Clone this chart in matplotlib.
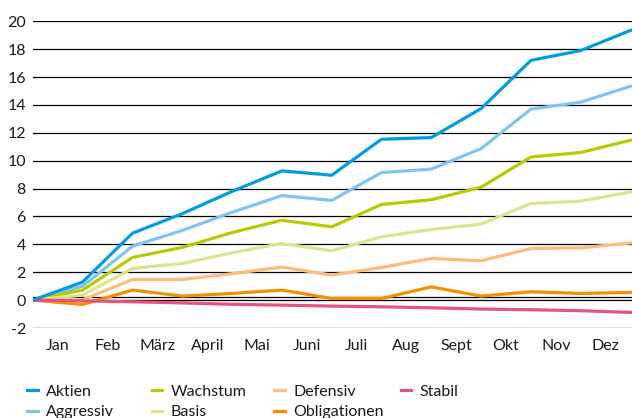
import matplotlib
matplotlib.use('Agg')
import matplotlib.pyplot as plt

# Monatsnamen (Beschriftung zwischen den Punkten)
monate = ['Jan', 'Feb', 'März', 'April', 'Mai', 'Juni', 'Juli', 'Aug', 'Sept', 'Okt', 'Nov', 'Dez']
punkte = list(range(13))  # Monatsenden, 0 = Start

aktien = [0, 1.3, 4.8, 6.2, 7.8, 9.27, 8.96, 11.54, 11.66, 13.74, 17.2, 17.9, 19.35]
aggressiv = [0, 1.0, 3.87, 5.0, 6.3, 7.5, 7.15, 9.15, 9.4, 10.87, 13.7, 14.2, 15.34]
wachstum = [0, 0.72, 3.06, 3.78, 4.85, 5.73, 5.26, 6.86, 7.2, 8.1, 10.27, 10.59, 11.47]
basis = [0, 0.36, 2.27, 2.63, 3.4, 4.06, 3.54, 4.54, 5.07, 5.45, 6.93, 7.1, 7.76]
defensiv = [0, 0.02, 1.48, 1.48, 1.9, 2.37, 1.8, 2.34, 2.99, 2.82, 3.7, 3.75, 4.1]
obligationen = [0, -0.31, 0.72, 0.29, 0.48, 0.72, 0.12, 0.12, 0.95, 0.29, 0.6, 0.48, 0.55]
stabil = [0, -0.05, -0.12, -0.2, -0.3, -0.36, -0.43, -0.48, -0.55, -0.64, -0.69, -0.76, -0.88]

serien = [
    ('Aktien', aktien, '#009ee0'),
    ('Aggressiv', aggressiv, '#7cc6ef'),
    ('Wachstum', wachstum, '#b8cb00'),
    ('Basis', basis, '#dce48e'),
    ('Defensiv', defensiv, '#fbbd7c'),
    ('Obligationen', obligationen, '#f29200'),
    ('Stabil', stabil, '#e9527e'),
]

plt.rcParams['font.family'] = ['Lato', 'DejaVu Sans']

fig = plt.figure(figsize=(6.32, 4.18), dpi=100)
ax = fig.add_axes([0.052, 0.2153, 0.948, 0.7337])

# Gitterlinien
for y in range(-2, 21, 2):
    ax.axhline(y, color='black', linewidth=0.9, zorder=1)
ax.axhline(0.2, color='black', linewidth=0.9, zorder=1)

linien = []
for name, werte, farbe in serien:
    l, = ax.plot(punkte, werte, color=farbe, linewidth=2.3, label=name,
                 solid_joinstyle='miter', zorder=2)
    linien.append(l)
# Aktien oben
linien[0].set_zorder(3)

ax.set_xlim(0, 12.03)
ax.set_ylim(-2, 20)
ax.set_yticks(range(-2, 21, 2))
ax.set_yticklabels([str(v) for v in range(-2, 21, 2)])
ax.set_xticks([i + 0.5 for i in range(12)])
ax.set_xticklabels(monate)
ax.tick_params(length=0, labelsize=11.5, colors='#1a1a1a', pad=5)
ax.tick_params(axis='x', pad=8)
for s in ax.spines.values():
    s.set_visible(False)

# Legende in 4 Spalten
spalten_x = [0.043, 0.24, 0.434, 0.634]
for k in range(4):
    h = linien[2 * k:2 * k + 2]
    leg = fig.legend(handles=h, labels=[x.get_label() for x in h],
                     loc='upper left', bbox_to_anchor=(spalten_x[k], 0.080),
                     frameon=False, fontsize=11.5, handlelength=0.65,
                     handletextpad=0.55, labelspacing=0.4, borderaxespad=0,
                     borderpad=0)
    for t in leg.get_texts():
        t.set_color('#1a1a1a')

plt.savefig('out.png', dpi=100)
